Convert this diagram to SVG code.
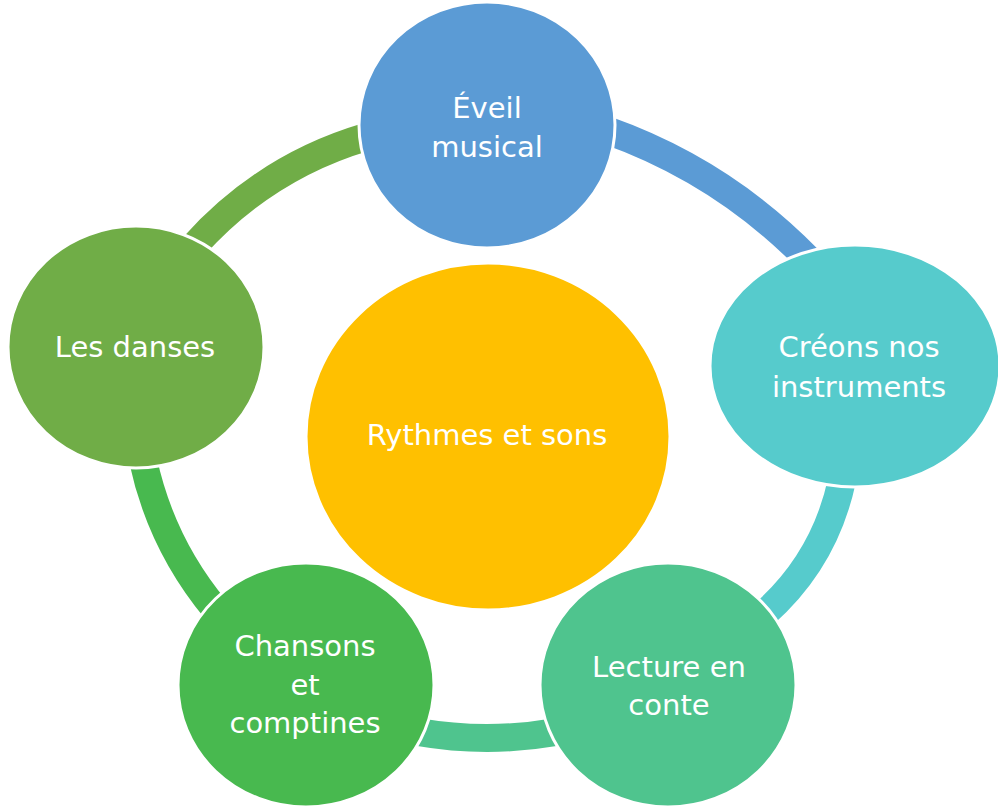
<svg xmlns="http://www.w3.org/2000/svg" width="998" height="807" viewBox="0 0 998 807">
  <style>
    .arc { fill: none; stroke-width: 28; stroke-linecap: butt; }
    .node { stroke: #ffffff; stroke-width: 3; }
    .lbl { font-family: "DejaVu Sans", "Noto Sans", sans-serif; font-size: 29px; fill: #ffffff; text-anchor: middle; }
  </style>
  <rect x="0" y="0" width="998" height="807" fill="#ffffff"/>
  <g id="connectors">
    <path class="arc" stroke="#5B9BD5" d="M 606 130 Q 722 171 808 259"/>
    <path class="arc" stroke="#56CBCC" d="M 842 480 Q 825 560 764 614"/>
    <path class="arc" stroke="#4FC48E" d="M 418 732 Q 487 744 556 732"/>
    <path class="arc" stroke="#48B94F" d="M 143 460 Q 161 544 216 610"/>
    <path class="arc" stroke="#70AD47" d="M 194 246 Q 265 167 366 137"/>
  </g>
  <g id="center">
    <ellipse class="node" cx="488" cy="436.5" rx="182" ry="173.5" fill="#FFC000"/>
    <text class="lbl" x="487" y="445">Rythmes et sons</text>
  </g>
  <g id="eveil">
    <ellipse class="node" cx="487" cy="125" rx="128" ry="123" fill="#5B9BD5"/>
    <text class="lbl" x="487" y="118">Éveil</text>
    <text class="lbl" x="487" y="157">musical</text>
  </g>
  <g id="creons">
    <ellipse class="node" cx="855" cy="366" rx="145" ry="121" fill="#56CBCC"/>
    <text class="lbl" x="859" y="357">Créons nos</text>
    <text class="lbl" x="859" y="397">instruments</text>
  </g>
  <g id="lecture">
    <ellipse class="node" cx="668" cy="685" rx="128" ry="122" fill="#4FC48E"/>
    <text class="lbl" x="669" y="677">Lecture en</text>
    <text class="lbl" x="669" y="715">conte</text>
  </g>
  <g id="chansons">
    <ellipse class="node" cx="306" cy="685" rx="128" ry="122" fill="#48B94F"/>
    <text class="lbl" x="305" y="656">Chansons</text>
    <text class="lbl" x="305" y="695">et</text>
    <text class="lbl" x="305" y="733">comptines</text>
  </g>
  <g id="danses">
    <ellipse class="node" cx="136" cy="347" rx="128" ry="121" fill="#70AD47"/>
    <text class="lbl" x="135" y="357">Les danses</text>
  </g>
</svg>
